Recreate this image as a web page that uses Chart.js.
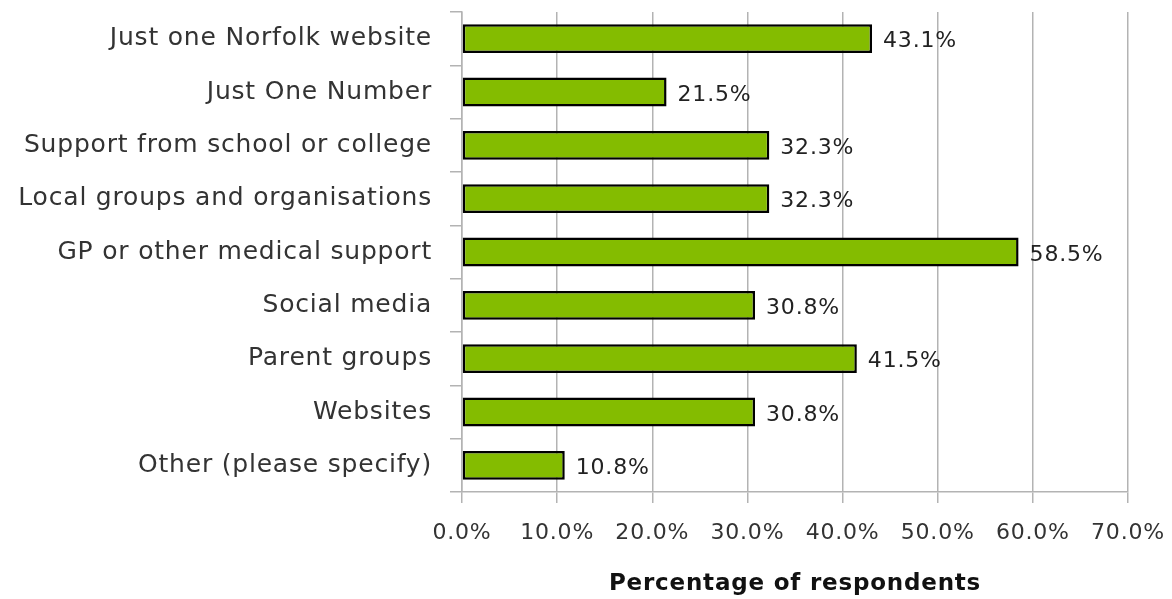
<!DOCTYPE html>
<html>
<head>
<meta charset="utf-8">
<script src="https://cdn.jsdelivr.net/npm/chart.js@4.4.0/dist/chart.umd.min.js"></script>
<style>
  html, body { margin: 0; padding: 0; background: #ffffff; }
  #wrap { width: 1172px; height: 599px; position: relative; }
</style>
</head>
<body>
<div id="wrap"><canvas id="chart"></canvas></div>
<script>
const categories = [
    'Just one Norfolk website',
    'Just One Number',
    'Support from school or college',
    'Local groups and organisations',
    'GP or other medical support',
    'Social media',
    'Parent groups',
    'Websites',
    'Other (please specify)'
];
const percentages = [43.1, 21.5, 32.3, 32.3, 58.5, 30.8, 41.5, 30.8, 10.8];
const xTicks = [0, 10, 20, 30, 40, 50, 60, 70];

const FONT = '"DejaVu Sans", sans-serif';
const GRID = '#b3b3b3';

// a bit of tracking so the text spreads like the original's wide face
const spacing = {
    id: 'spacing',
    beforeDraw(chart) {
        chart.ctx.letterSpacing = '0.8px';
    }
};

// value labels drawn just past the bar ends
const valueLabels = {
    id: 'valueLabels',
    afterDatasetsDraw(chart) {
        const ctx = chart.ctx;
        const meta = chart.getDatasetMeta(0);
        ctx.save();
        ctx.font = '22px ' + FONT;
        ctx.fillStyle = '#222222';
        ctx.textAlign = 'left';
        ctx.textBaseline = 'middle';
        meta.data.forEach((bar, i) => {
            ctx.fillText(percentages[i].toFixed(1) + '%', bar.x + 11, bar.y + 3);
        });
        ctx.restore();
    }
};

new Chart(document.getElementById('chart'), {
    type: 'bar',
    data: {
        labels: categories,
        datasets: [{
            data: percentages,
            backgroundColor: '#84bc00',
            borderColor: '#000000',
            borderWidth: 2.5,
            borderSkipped: false,
            barPercentage: 0.54,
            categoryPercentage: 1.0
        }]
    },
    options: {
        indexAxis: 'y',
        responsive: true,
        maintainAspectRatio: false,
        animation: false,
        layout: { padding: { top: 12, right: 44, left: 0, bottom: 0 } },
        plugins: {
            legend: { display: false },
            tooltip: { enabled: false }
        },
        scales: {
            x: {
                min: 0,
                max: 70,
                afterBuildTicks(axis) {
                    axis.ticks = xTicks.map(v => ({ value: v }));
                },
                afterFit(axis) {
                    axis.height = 107;
                    axis.paddingLeft = 0;
                    axis.paddingRight = 0;
                },
                grid: {
                    color: GRID,
                    lineWidth: 1.5,
                    tickLength: 11
                },
                border: { color: GRID, width: 1.5 },
                ticks: {
                    color: '#333333',
                    font: { family: FONT, size: 22 },
                    padding: 17,
                    maxRotation: 0,
                    callback: v => v.toFixed(1) + '%'
                },
                title: {
                    display: true,
                    text: 'Percentage of respondents',
                    color: '#111111',
                    font: { family: FONT, size: 23, weight: 'bold' },
                    padding: { top: 0, bottom: 1 }
                }
            },
            y: {
                afterFit(axis) {
                    axis.width = 462;
                    axis.paddingTop = 0;
                    axis.paddingBottom = 0;
                },
                grid: {
                    drawOnChartArea: false,
                    color: GRID,
                    lineWidth: 1.5,
                    tickLength: 12
                },
                border: { color: GRID, width: 1.5 },
                ticks: {
                    color: '#333333',
                    font: { family: FONT, size: 25 },
                    padding: 18
                }
            }
        }
    },
    plugins: [spacing, valueLabels]
});
</script>
</body>
</html>
